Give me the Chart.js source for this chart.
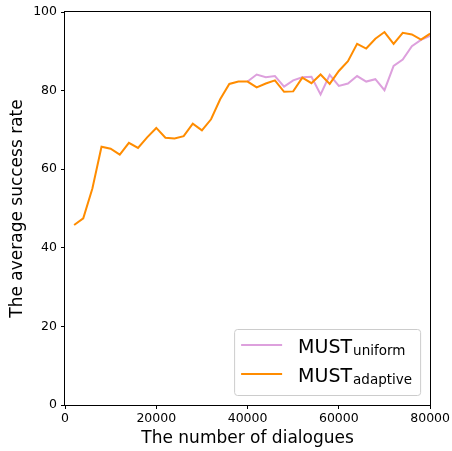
<!DOCTYPE html>
<html>
<head>
<meta charset="utf-8">
<script src="https://cdn.jsdelivr.net/npm/chart.js@4.4.1/dist/chart.umd.min.js"></script>
<style>
html,body{margin:0;padding:0;background:#fff;}
#wrap{width:452px;height:451px;position:relative;}
</style>
</head>
<body>
<div id="wrap"><canvas id="c" width="452" height="451"></canvas></div>
<script>
const dialogues = [2000,4000,6000,8000,10000,12000,14000,16000,18000,20000,
  22000,24000,26000,28000,30000,32000,34000,36000,38000,40000,
  42000,44000,46000,48000,50000,52000,54000,56000,58000,60000,
  62000,64000,66000,68000,70000,72000,74000,76000,78000,80000];
const adaptive = [45.8,47.5,55.1,65.7,65.2,63.7,66.7,65.4,68.1,70.5,
  68.0,67.8,68.4,71.6,69.9,72.7,77.8,81.7,82.3,82.3,
  80.8,81.8,82.6,79.7,79.8,83.3,81.9,84.1,81.7,85.0,
  87.5,91.9,90.7,93.2,94.9,91.9,94.7,94.3,93.0,94.5];
const uniform = [null,null,null,null,null,null,null,null,null,null,
  null,null,null,null,null,null,null,null,null,82.3,
  84.1,83.4,83.7,81.0,82.6,83.4,83.5,79.0,84.0,81.2,
  81.8,83.7,82.3,82.9,80.1,86.3,87.9,91.3,92.9,93.9];
const seriesNames = ["MUST","MUST"];
const seriesSubs = ["uniform","adaptive"];
const seriesColors = ["#DDA0DD","#FF8C00"];
const xTicks = [0,20000,40000,60000,80000];
const yTicks = [0,20,40,60,80,100];
const xTitle = "The number of dialogues";
const yTitle = "The average success rate";

const FONT = "'DejaVu Sans', sans-serif";

const frame = {
  id:'frame',
  afterDatasetsDraw(chart){
    const {ctx, chartArea:a} = chart;
    ctx.save();
    ctx.strokeStyle='#000'; ctx.lineWidth=1;
    ctx.strokeRect(Math.round(a.left)-0.5, Math.round(a.top)-0.5, Math.round(a.right-a.left)+1, Math.round(a.bottom-a.top)+1);
    ctx.restore();
  },
  afterDraw(chart){
    const ctx = chart.ctx, a = chart.chartArea;
    const bx = a.right - 196, by = a.bottom - 76, bw = 186, bh = 66;
    ctx.save();
    ctx.beginPath();
    if (ctx.roundRect) ctx.roundRect(bx+0.5, by+0.5, bw, bh, 3); else ctx.rect(bx+0.5,by+0.5,bw,bh);
    ctx.fillStyle='rgba(255,255,255,0.8)'; ctx.fill();
    ctx.strokeStyle='#cccccc'; ctx.lineWidth=1; ctx.stroke();
    chart.data.datasets.forEach((ds,i)=>{
      const rowY = by + 16 + i*29;
      ctx.strokeStyle = ds.borderColor; ctx.lineWidth = 2;
      ctx.beginPath(); ctx.moveTo(bx+7, rowY); ctx.lineTo(bx+48, rowY); ctx.stroke();
      ctx.fillStyle='#000';
      ctx.textBaseline='alphabetic'; ctx.textAlign='left';
      ctx.font = "19px " + FONT;
      const base = rowY + 7.5;
      ctx.fillText(seriesNames[i], bx+64, base);
      const w = ctx.measureText(seriesNames[i]).width;
      ctx.font = "13.5px " + FONT;
      ctx.fillText(seriesSubs[i], bx+65+w, base+2);
    });
    ctx.restore();
  }
};

new Chart(document.getElementById('c'), {
  type:'line',
  data:{
    datasets:[
      {label: seriesNames[0]+'_'+seriesSubs[0], data: dialogues.map((x,i)=>({x, y: uniform[i]})),
        borderColor: seriesColors[0], backgroundColor: seriesColors[0], borderWidth:2, pointRadius:0, tension:0, order:1, spanGaps:false},
      {label: seriesNames[1]+'_'+seriesSubs[1], data: dialogues.map((x,i)=>({x, y: adaptive[i]})),
        borderColor: seriesColors[1], backgroundColor: seriesColors[1], borderWidth:2, pointRadius:0, tension:0, order:0}
    ]
  },
  options:{
    responsive:false, animation:false, devicePixelRatio:1,
    layout:{padding:{top:12,right:21,left:0,bottom:0}},
    plugins:{legend:{display:false}, tooltip:{enabled:false}},
    scales:{
      x:{type:'linear', min:0, max:80000,
        afterBuildTicks(s){ s.ticks = xTicks.map(v=>({value:v})); },
        afterFit(s){ s.height = 46; },
        ticks:{color:'#000', font:{family:FONT,size:12.5}, padding:2, maxRotation:0, callback:v=>String(v)},
        grid:{display:true, drawOnChartArea:false, drawTicks:true, tickLength:4, tickColor:'#000'},
        border:{display:false},
        title:{display:true, text:xTitle, color:'#000', font:{family:FONT,size:17}, padding:{top:0,bottom:2}}
      },
      y:{type:'linear', min:0, max:100,
        afterBuildTicks(s){ s.ticks = yTicks.map(v=>({value:v})); },
        afterFit(s){ s.width = 65; },
        ticks:{color:'#000', font:{family:FONT,size:12.5}, padding:4},
        grid:{display:true, drawOnChartArea:false, drawTicks:true, tickLength:4, tickColor:'#000'},
        border:{display:false},
        title:{display:true, text:yTitle, color:'#000', font:{family:FONT,size:17}, padding:{top:7,bottom:0}}
      }
    }
  },
  plugins:[frame]
});
</script>
</body>
</html>
